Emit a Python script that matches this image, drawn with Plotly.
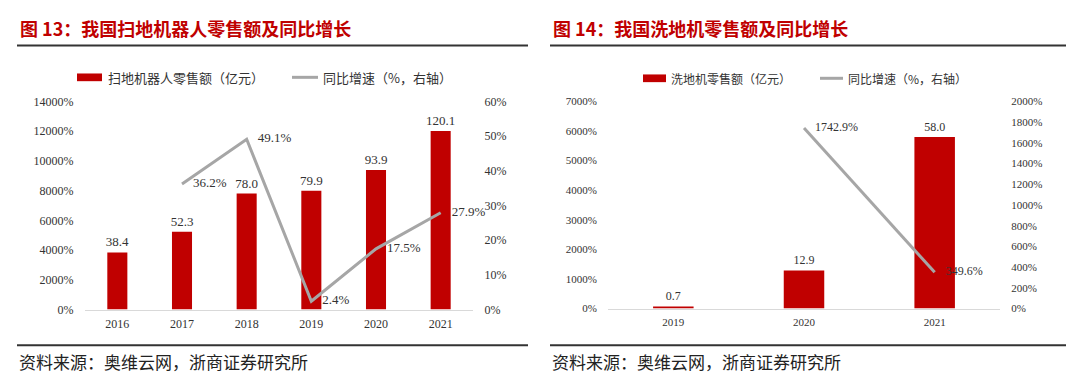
import plotly.graph_objects as go

# ---------------- data ----------------
years_a = ["2016", "2017", "2018", "2019", "2020", "2021"]
sales_a = [38.4, 52.3, 78.0, 79.9, 93.9, 120.1]          # 扫地机器人零售额（亿元）
growth_years_a = ["2017", "2018", "2019", "2020", "2021"]
growth_a = [36.2, 49.1, 2.4, 17.5, 27.9]                  # 同比增速（%）

years_b = ["2019", "2020", "2021"]
sales_b = [0.7, 12.9, 58.0]                               # 洗地机零售额（亿元）
growth_years_b = ["2020", "2021"]
growth_b = [1742.9, 349.6]                                # 同比增速（%）

title_a = "图 13：我国扫地机器人零售额及同比增长"
title_b = "图 14：我国洗地机零售额及同比增长"
legend_bar_a = "扫地机器人零售额（亿元）"
legend_bar_b = "洗地机零售额（亿元）"
legend_line = "同比增速（%，右轴）"
source = "资料来源：奥维云网，浙商证券研究所"

# ---------------- style ----------------
W, H = 1080, 383
RED = "#C00000"
GREY = "#A6A6A6"
TXT = "#333333"
SERIF = "Liberation Serif, Noto Sans CJK SC, serif"
CJK = "Noto Sans CJK SC, sans-serif"
GHOST = dict(size=16, color="rgba(0,0,0,0)")


def px(x):
    return x / W


def py(y):
    return 1 - y / H


fig = go.Figure()

# ---- left chart ----
fig.add_trace(go.Bar(
    x=years_a, y=sales_a, marker_color=RED, marker_line_width=0,
    texttemplate="%{y:.1f}", textposition="outside", cliponaxis=False,
    constraintext="none",
    textfont=dict(family=SERIF, size=13, color=TXT),
    xaxis="x", yaxis="y", showlegend=False, hoverinfo="skip"))
fig.add_trace(go.Scatter(
    x=growth_years_a, y=growth_a, mode="lines+markers+text",
    line=dict(color=GREY, width=3), marker=GHOST,
    texttemplate="%{y:.1f}%", textposition="middle right", cliponaxis=False,
    textfont=dict(family=SERIF, size=13, color=TXT),
    xaxis="x", yaxis="y2", showlegend=False, hoverinfo="skip"))

# ---- right chart ----
fig.add_trace(go.Bar(
    x=years_b, y=sales_b, marker_color=RED, marker_line_width=0,
    texttemplate="%{y:.1f}", textposition="outside", cliponaxis=False,
    constraintext="none",
    textfont=dict(family=SERIF, size=12, color=TXT),
    xaxis="x2", yaxis="y3", showlegend=False, hoverinfo="skip"))
fig.add_trace(go.Scatter(
    x=growth_years_b, y=growth_b, mode="lines+markers+text",
    line=dict(color=GREY, width=3), marker=GHOST,
    texttemplate="%{y:.1f}%", textposition="middle right", cliponaxis=False,
    textfont=dict(family=SERIF, size=12, color=TXT),
    xaxis="x2", yaxis="y4", showlegend=False, hoverinfo="skip"))

tickfont_a = dict(family=SERIF, size=12, color=TXT)
tickfont_b = dict(family=SERIF, size=11, color=TXT)
noticks = dict(ticks="outside", ticklen=8, tickcolor="rgba(0,0,0,0)")

ydom_a = [py(314), py(98)]
ydom_b = [py(313), py(98)]

fig.update_layout(
    width=W, height=H, autosize=False,
    margin=dict(l=0, r=0, t=0, b=0),
    paper_bgcolor="white", plot_bgcolor="white",
    bargap=0.69, showlegend=False,
    xaxis=dict(domain=[px(85), px(473)], type="category", categoryorder="array",
               categoryarray=years_a, showline=True, linecolor="#D9D9D9", linewidth=1,
               showgrid=False, ticks="outside", ticklen=3, tickcolor="rgba(0,0,0,0)",
               tickfont=tickfont_a, anchor="y"),
    yaxis=dict(domain=ydom_a, range=[0, 140], dtick=20, tickformat=".0%",
               showgrid=False, zeroline=False, showline=False,
               tickfont=tickfont_a, anchor="x", **noticks),
    yaxis2=dict(domain=ydom_a, range=[0, 60], dtick=10, ticksuffix="%",
                overlaying="y", side="right", showgrid=False, zeroline=False,
                showline=False, tickfont=tickfont_a, anchor="x", **noticks),
    xaxis2=dict(domain=[px(608), px(1000)], type="category", categoryorder="array",
                categoryarray=years_b, showline=True, linecolor="#D9D9D9", linewidth=1,
                showgrid=False, ticks="outside", ticklen=3, tickcolor="rgba(0,0,0,0)",
                tickfont=tickfont_b, anchor="y3"),
    yaxis3=dict(domain=ydom_b, range=[0, 70], dtick=10, tickformat=".0%",
                showgrid=False, zeroline=False, showline=False,
                tickfont=tickfont_b, anchor="x2", **noticks),
    yaxis4=dict(domain=ydom_b, range=[0, 2000], dtick=200, ticksuffix="%",
                overlaying="y3", side="right", showgrid=False, zeroline=False,
                showline=False, tickfont=tickfont_b, anchor="x2", **noticks),
)

shapes = []
annotations = []

# titles + rules + sources
for x0, x1, title in [(17, 528, title_a), (550, 1066, title_b)]:
    annotations.append(dict(text="<b>" + title + "</b>", x=px(x0 + 1), y=py(22),
                            xref="paper", yref="paper", xanchor="left", yanchor="middle",
                            showarrow=False, font=dict(family=CJK, size=18, color=RED)))
    shapes.append(dict(type="line", xref="paper", yref="paper",
                       x0=px(x0), x1=px(x1), y0=py(40), y1=py(40),
                       line=dict(color="#333333", width=2)))
    shapes.append(dict(type="line", xref="paper", yref="paper",
                       x0=px(x0), x1=px(x1), y0=py(351), y1=py(351),
                       line=dict(color="#333333", width=2)))
    annotations.append(dict(text=source, x=px(x0), y=py(368),
                            xref="paper", yref="paper", xanchor="left", yanchor="middle",
                            showarrow=False, font=dict(family=CJK, size=17, color="#222222")))

# legends
for (rx0, rx1, tx, lx0, lx1, ltx, ly, fs, lab) in [
        (77, 102, 106, 292, 318, 321, 73, 13, legend_bar_a),
        (643, 666, 669, 820, 843, 846, 74, 12, legend_bar_b)]:
    shapes.append(dict(type="rect", xref="paper", yref="paper",
                       x0=px(rx0), x1=px(rx1), y0=py(ly + 4), y1=py(ly - 4),
                       fillcolor=RED, line=dict(width=0)))
    shapes.append(dict(type="line", xref="paper", yref="paper",
                       x0=px(lx0), x1=px(lx1), y0=py(ly), y1=py(ly),
                       line=dict(color=GREY, width=3)))
    annotations.append(dict(text=lab, x=px(tx), y=py(ly), xref="paper", yref="paper",
                            xanchor="left", yanchor="middle", showarrow=False,
                            font=dict(family=CJK, size=fs, color=TXT)))
    annotations.append(dict(text=legend_line, x=px(ltx), y=py(ly), xref="paper",
                            yref="paper", xanchor="left", yanchor="middle",
                            showarrow=False, font=dict(family=CJK, size=fs, color=TXT)))

fig.update_layout(shapes=shapes, annotations=annotations, hovermode=False)

fig.write_html("out.html", config={"displayModeBar": False, "staticPlot": True},
               post_script="document.body.style.margin='0';document.body.style.overflow='hidden';")
